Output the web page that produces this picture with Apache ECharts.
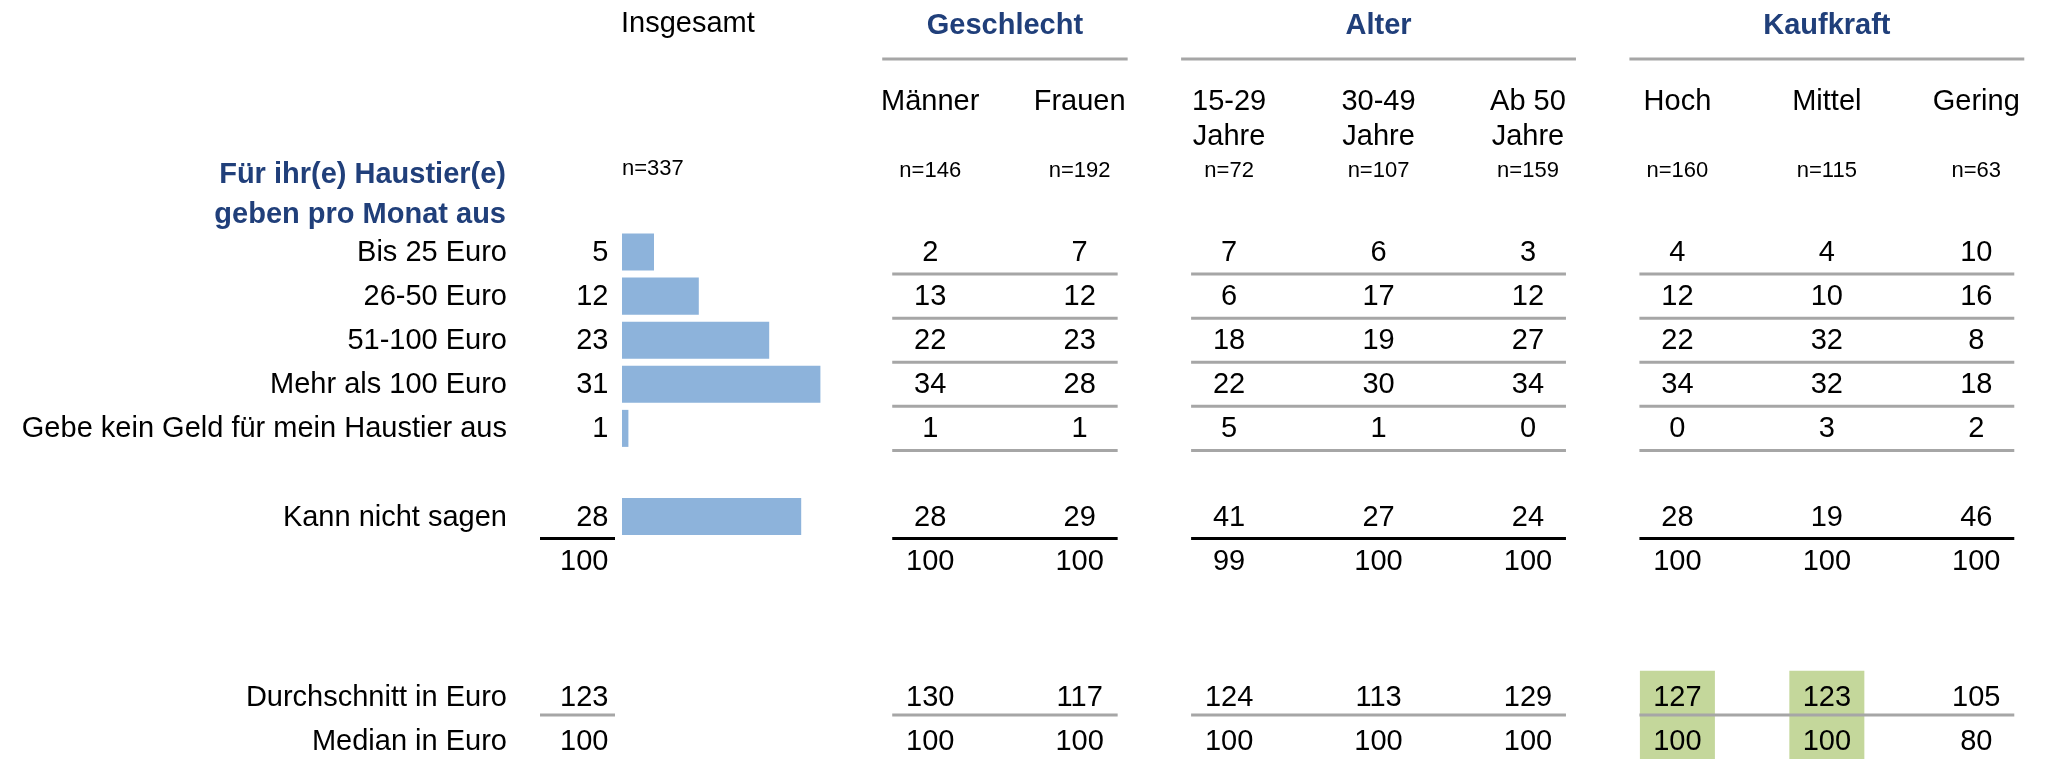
<!DOCTYPE html>
<html>
<head>
<meta charset="utf-8">
<script src="https://cdn.jsdelivr.net/npm/echarts@6/dist/echarts.min.js"></script>
<style>
html, body { margin: 0; padding: 0; background: #fff; }
#chart { width: 2051px; height: 759px; }
</style>
</head>
<body>
<div id="chart"></div>
<script>
const FONT = '"Liberation Sans", Arial, sans-serif'
const BLUE = '#203F7A'
const GRAY = '#A6A6A6'

// rows of the table (names starting with _ are spacer / sum rows without a label)
const rowLabels = ['Bis 25 Euro', '26-50 Euro', '51-100 Euro', 'Mehr als 100 Euro', 'Gebe kein Geld für mein Haustier aus', '_gap1', 'Kann nicht sagen', '_sum', '_gap2', '_gap3', 'Durchschnitt in Euro', 'Median in Euro']
const columns = ['Männer', 'Frauen', '15-29\nJahre', '30-49\nJahre', 'Ab 50\nJahre', 'Hoch', 'Mittel', 'Gering']
const sampleSizes = ['n=146', 'n=192', 'n=72', 'n=107', 'n=159', 'n=160', 'n=115', 'n=63']
const groups = ['Geschlecht', 'Alter', 'Kaufkraft']
const groupSpans = [[0, 1], [2, 4], [5, 7]]

// Insgesamt column, one value per row (null = empty)
const insgesamt = [5, 12, 23, 31, 1, null, 28, 100, null, null, 123, 100]
const barRows = [0, 1, 2, 3, 4, 6]

// one value per column, for each row
const bis25 = [2, 7, 7, 6, 3, 4, 4, 10]
const eur26bis50 = [13, 12, 6, 17, 12, 12, 10, 16]
const eur51bis100 = [22, 23, 18, 19, 27, 22, 32, 8]
const mehrAls100 = [34, 28, 22, 30, 34, 34, 32, 18]
const keinGeld = [1, 1, 5, 1, 0, 0, 3, 2]
const kannNicht = [28, 29, 41, 27, 24, 28, 19, 46]
const summe = [100, 100, 99, 100, 100, 100, 100, 100]
const durchschnitt = [130, 117, 124, 113, 129, 127, 123, 105]
const median = [100, 100, 100, 100, 100, 100, 100, 80]

const tableRows = [[0, bis25], [1, eur26bis50], [2, eur51bis100], [3, mehrAls100], [4, keinGeld], [6, kannNicht], [7, summe], [10, durchschnitt], [11, median]]

// rules drawn under a row: gray thin rules, black rule above the sum
const grayRuleRows = [0, 1, 2, 3, 4, 10]
const blackRuleRows = [6]
const insgesamtRuleRows = [6, 10]
// highlighted cells [column, row]
const highlighted = [[5, 10], [5, 11], [6, 10], [6, 11]]
// the euro rows sit a little lower in their band
const lowRows = [10, 11]

const cellItem = (d) => (lowRows.includes(d[1]) ? { value: d, label: { offset: [0, 5] } } : { value: d, label: { offset: [0, 1] } })
const cells = tableRows.flatMap(([r, vals]) => vals.map((v, c) => cellItem([c, r, v])))
const totalCells = insgesamt.map((v, r) => [0, r, v]).filter(d => d[2] !== null).map(cellItem)
const bars = insgesamt.map((v, r) => (barRows.includes(r) ? v : '-'))
const rules = []
groupSpans.forEach(([a, b]) => {
  grayRuleRows.forEach(r => rules.push([a, b, r, 0]))
  blackRuleRows.forEach(r => rules.push([a, b, r, 1]))
})
const totalRules = insgesamtRuleRows.map(r => [0, r, blackRuleRows.includes(r) ? 1 : 0])

const valueLabel = { show: true, fontSize: 29, color: '#000', opacity: 1, textBorderWidth: 0, fontFamily: FONT, formatter: p => p.value[2] }

const chart = echarts.init(document.getElementById('chart'))

chart.setOption({
  animation: false,
  backgroundColor: '#fff',
  textStyle: { fontFamily: FONT },
  title: [
    {
      text: 'Für ihr(e) Haustier(e)\ngeben pro Monat aus',
      left: 506, top: 155, padding: 0, textAlign: 'right',
      textStyle: { fontFamily: FONT, fontSize: 29, fontWeight: 'bold', color: BLUE, lineHeight: 40 },
    },
    { text: 'Insgesamt', left: 621, top: 9, padding: 0, textStyle: { fontFamily: FONT, fontSize: 29, fontWeight: 'normal', color: '#000' } },
    { text: 'n=337', left: 622, top: 158, padding: 0, textStyle: { fontFamily: FONT, fontSize: 22, fontWeight: 'normal', color: '#000' } },
  ],
  grid: [
    { left: 622, top: 230, width: 256, height: 529 },
    { left: 855.5, top: 230, width: 1208, height: 529 },
  ],
  xAxis: [
    { type: 'value', gridIndex: 0, min: 0, max: 40, show: false },
    {
      type: 'category', gridIndex: 1, data: columns, position: 'top',
      axisLine: { show: false }, axisTick: { show: false }, splitLine: { show: false },
      axisLabel: { interval: 0, margin: 146, verticalAlign: 'top', fontSize: 29, lineHeight: 35, color: '#000', fontFamily: FONT },
    },
    {
      type: 'category', gridIndex: 1, data: sampleSizes, position: 'top',
      axisLine: { show: false }, axisTick: { show: false }, splitLine: { show: false },
      axisLabel: { interval: 0, margin: 59, verticalAlign: 'middle', fontSize: 22, color: '#000', fontFamily: FONT },
    },
  ],
  yAxis: [
    {
      type: 'category', gridIndex: 0, data: rowLabels, inverse: true,
      axisLine: { show: false }, axisTick: { show: false }, splitLine: { show: false },
      axisLabel: {
        interval: 0, margin: 115, fontSize: 29, color: '#000', fontFamily: FONT,
        formatter: (v, i) => (v.startsWith('_') ? '' : lowRows.includes(i) ? '{low|' + v + '}' : '{std|' + v + '}'),
        rich: {
          std: { fontSize: 29, color: '#000', fontFamily: FONT, padding: [2, 0, 0, 0] },
          low: { fontSize: 29, color: '#000', fontFamily: FONT, padding: [10, 0, 0, 0] },
        },
      },
    },
    { type: 'category', gridIndex: 1, data: rowLabels, inverse: true, show: false },
  ],
  series: [
    {
      type: 'bar', xAxisIndex: 0, yAxisIndex: 0, data: bars,
      barCategoryGap: '16%', itemStyle: { color: '#8DB3DB' }, silent: true,
    },
    {
      type: 'scatter', xAxisIndex: 0, yAxisIndex: 0, data: totalCells, symbolSize: 1,
      itemStyle: { color: 'transparent', opacity: 1 }, silent: true,
      label: { ...valueLabel, position: 'left', distance: 13 },
    },
    {
      type: 'custom', xAxisIndex: 0, yAxisIndex: 0, data: totalRules, clip: false, silent: true,
      encode: { x: 0, y: 1 },
      renderItem: (params, api) => {
        const p = api.coord([0, api.value(1)])
        const y = p[1] + api.size([0, 1])[1] / 2
        return { type: 'line', shape: { x1: p[0] - 82, y1: y, x2: p[0] - 7, y2: y }, style: { stroke: api.value(2) ? '#000' : GRAY, lineWidth: 3 } }
      },
    },
    {
      type: 'custom', xAxisIndex: 1, yAxisIndex: 1, data: highlighted, clip: false, silent: true, z: 1,
      encode: { x: 0, y: 1 },
      renderItem: (params, api) => {
        const p = api.coord([api.value(0), api.value(1)])
        const h = api.size([1, 1])[1]
        return { type: 'rect', shape: { x: p[0] - 37.5, y: p[1] - h / 2, width: 75, height: h }, style: { fill: '#C4D79B' } }
      },
    },
    {
      type: 'custom', xAxisIndex: 1, yAxisIndex: 1, data: rules, clip: false, silent: true, z: 2,
      encode: { x: [0, 1], y: 2 },
      renderItem: (params, api) => {
        const y = api.coord([0, api.value(2)])[1] + api.size([1, 1])[1] / 2
        const x1 = api.coord([api.value(0), 0])[0] - 38
        const x2 = api.coord([api.value(1), 0])[0] + 38
        return { type: 'line', shape: { x1, y1: y, x2, y2: y }, style: { stroke: api.value(3) ? '#000' : GRAY, lineWidth: 3 } }
      },
    },
    {
      type: 'custom', xAxisIndex: 1, yAxisIndex: 1, data: groupSpans, clip: false, silent: true,
      encode: { x: [0, 1] },
      renderItem: (params, api) => {
        const top = api.coord([0, 0])[1] - api.size([1, 1])[1] / 2
        const xa = api.coord([api.value(0), 0])[0]
        const xb = api.coord([api.value(1), 0])[0]
        return {
          type: 'group',
          children: [
            { type: 'text', style: { text: groups[params.dataIndex], x: (xa + xb) / 2, y: top - 204, align: 'center', verticalAlign: 'middle', font: 'bold 29px ' + FONT, fill: BLUE } },
            { type: 'line', shape: { x1: xa - 48, y1: top - 171, x2: xb + 48, y2: top - 171 }, style: { stroke: GRAY, lineWidth: 3 } },
          ],
        }
      },
    },
    {
      type: 'scatter', xAxisIndex: 1, yAxisIndex: 1, data: cells, symbolSize: 1, z: 3,
      itemStyle: { color: 'transparent', opacity: 1 }, silent: true,
      label: { ...valueLabel, position: 'inside' },
    },
  ],
})
</script>
</body>
</html>
